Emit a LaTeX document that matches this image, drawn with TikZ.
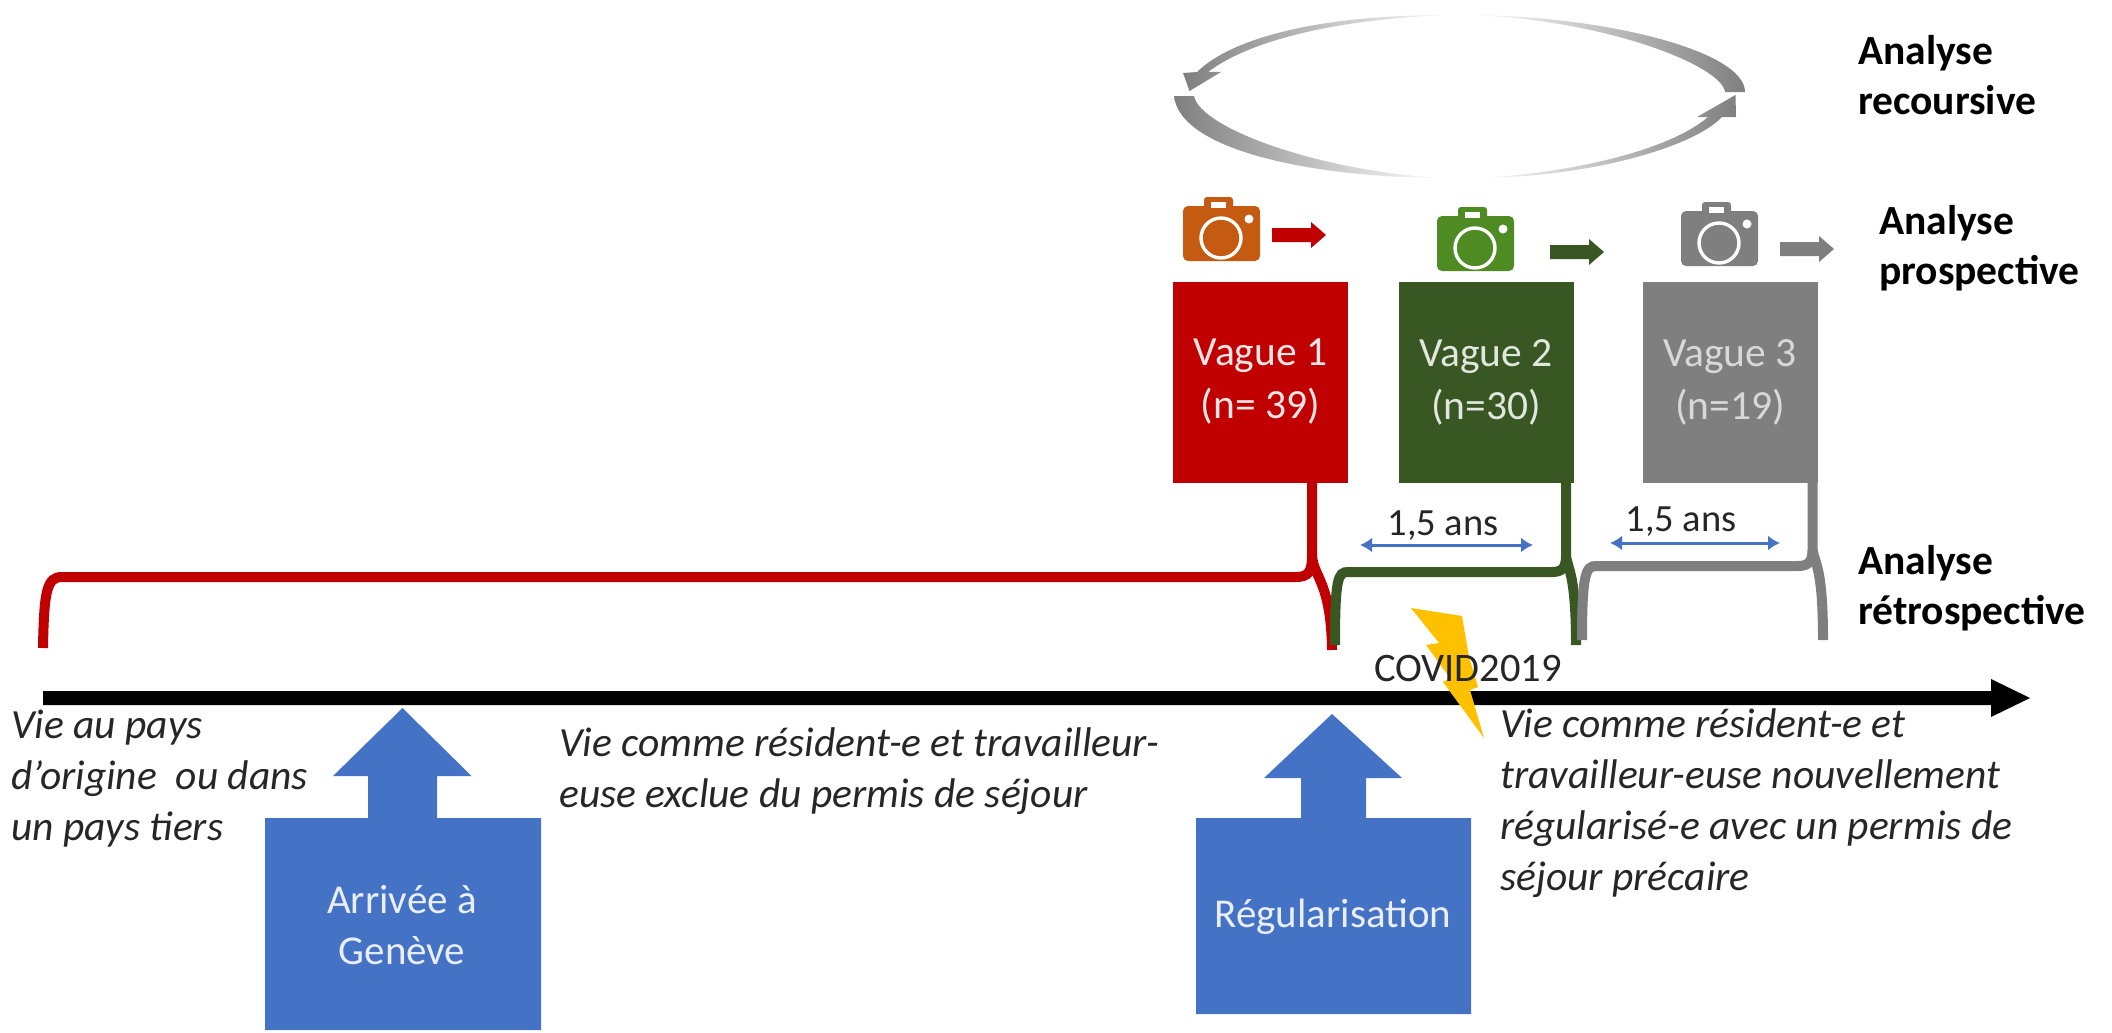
\documentclass[tikz,border=0pt]{standalone}
\usepackage{fontspec}
\setmainfont{Carlito}
\usetikzlibrary{arrows.meta}
\definecolor{cred}{HTML}{C00000}
\definecolor{cgreen}{HTML}{385723}
\definecolor{cgray}{HTML}{7F7F7F}
\definecolor{cblue}{HTML}{4472C4}
\definecolor{cyel}{HTML}{FFC000}
\definecolor{camo}{HTML}{C55A11}
\definecolor{camg}{HTML}{4E8B22}
\tikzset{
  wave/.style={draw=none,minimum width=175pt,minimum height=201pt,inner sep=0pt,outer sep=0pt,text=#1,align=center,font=\fontsize{41.5}{53}\selectfont},
  brace/.style={draw=#1,line width=10pt,line cap=butt},
  span/.style={draw=cblue,line width=3pt,{Latex[length=12pt,width=15pt]}-{Latex[length=12pt,width=15pt]}},
  italic/.style={anchor=north west,inner sep=0pt,align=left,font=\fontsize{41.5}{51}\selectfont\itshape,text=black!85},
  headline/.style={anchor=north west,inner sep=0pt,align=left,font=\fontsize{41.5}{50}\selectfont\bfseries},
  small/.style={inner sep=0pt,font=\fontsize{38.5}{46}\selectfont,text=black!85},
  bluetext/.style={inner sep=0pt,align=center,text=white!88!cblue,font=\fontsize{41}{51}\selectfont},
  minicam/.pic={
    \fill[#1,rounded corners=5pt] (0,9) -- (77,9) -- (77,64) -- (0,64) -- cycle;
    \fill[#1,rounded corners=3pt] (21,0) -- (50,0) -- (50,16) -- (21,16) -- cycle;
    \fill[white] (28,5) rectangle (43,11);
    \draw[white,line width=3.4pt] (38,41) circle[radius=20pt];
    \fill[white] (66,22) circle[radius=4.5pt];
  },
  miniarrow/.pic={
    \fill[#1] (0,-7) -- (39,-7) -- (39,-13) -- (54,0) -- (39,13) -- (39,7) -- (0,7) -- cycle;
  }
}
\begin{document}
\begin{tikzpicture}[x=1pt,y=-1pt]
\useasboundingbox (0,0) rectangle (2112,1033);

% recursive cycle
\path[left color=cgray,middle color=cgray!80,right color=white] (1174,96) -- (1194,96) .. controls (1200,128) and (1320,172) .. (1445,178) .. controls (1320,178) and (1180,152) .. (1174,96) -- cycle;
\path[left color=white,middle color=cgray!80,right color=cgray] (1475,178) .. controls (1580,178) and (1690,150) .. (1722,117) -- (1736,117) -- (1735.5,95) -- (1697,117) -- (1708,117) .. controls (1670,150) and (1570,174) .. (1475,178) -- cycle;
\path[left color=cgray,middle color=cgray!80,right color=white] (1455,15) .. controls (1330,14) and (1235,35) .. (1197,72) -- (1183,73) -- (1189.5,91) -- (1221,72) -- (1208,72) .. controls (1250,40) and (1340,18) .. (1455,15) -- cycle;
\path[left color=white,middle color=cgray!80,right color=cgray] (1465,15) .. controls (1600,15) and (1745,50) .. (1745,92) -- (1725,92) .. controls (1722,65) and (1600,18) .. (1465,15) -- cycle;

% cameras and small arrows
\pic at (1183,197) {minicam=camo};
\pic at (1437,207) {minicam=camg};
\pic at (1681,202) {minicam=cgray};
\pic at (1272,235) {miniarrow=cred};
\pic at (1550,252) {miniarrow=cgreen};
\pic at (1780,249) {miniarrow=cgray};

% waves
\node[wave=white!90!cred,fill=cred] (v1) at (1260.5,382) {Vague 1\\(n= 39)};
\node[wave=white!85!cgreen,fill=cgreen] (v2) at (1486,382) {Vague 2\\(n=30)};
\node[wave=white!70!cgray,fill=cgray] (v3) at (1730,382) {Vague 3\\(n=19)};

% brackets
\coordinate (r0) at (1312,482);
\coordinate (r1) at (43,648);
\coordinate (r2) at (1332,650);
\coordinate (g0) at (1566,482);
\coordinate (g1) at (1335,645);
\coordinate (g2) at (1576,645);
\coordinate (k0) at (1812.5,482);
\coordinate (k1) at (1582,640);
\coordinate (k2) at (1823,640);
\draw[brace=cred] (r0) -- (1312,556) .. controls (1312,572) and (1308,577) .. (1296,577) -- (62,577) .. controls (47,577) and (44,590) .. (r1);
\draw[brace=cred] (1312,556) .. controls (1314,578) and (1331,582) .. (r2);
\draw[brace=cgreen] (g0) -- (1566,556) .. controls (1566,568) and (1562,572) .. (1552,572) -- (1348,572) .. controls (1338,572) and (1335,578) .. (g1);
\draw[brace=cgreen] (1566,556) .. controls (1568,570) and (1576,575) .. (g2);
\draw[brace=cgray] (k0) -- (1812.5,550) .. controls (1812.5,562) and (1808,566) .. (1798,566) -- (1596,566) .. controls (1586,566) and (1582,573) .. (k1);
\draw[brace=cgray] (1812.5,550) .. controls (1815,564) and (1823,568) .. (k2);

% spans
\coordinate (s1a) at (1360,545);
\coordinate (s1b) at (1533,545);
\coordinate (s2a) at (1610,543);
\coordinate (s2b) at (1780,543);
\draw[span] (s1a) -- (s1b);
\draw[span] (s2a) -- (s2b);
\node[small] (t1) at (1443,526) {1,5 ans};
\node[small] (t2) at (1681,522) {1,5 ans};

% timeline
\coordinate (tl0) at (43,698);
\coordinate (tl1) at (2030,698);
\fill[black] (tl0 |- 0,691) -- (1991,691) -- (1991,679) -- (tl1) -- (1991,717) -- (1991,705) -- (tl0 |- 0,705) -- cycle;

% lightning
\fill[cyel] (1411,608) -- (1462,616) -- (1469,657) -- (1478,687) -- (1470,690) -- (1484,738) -- (1443,682) -- (1450,678) -- (1426,645) -- (1439,643) -- cycle;
\node[small,font=\fontsize{40.5}{46}\selectfont] (covid) at (1468,668) {COVID2019};

% blue arrows
\fill[cblue] (402.5,708) -- (471.5,776) -- (437,776) -- (437,818) -- (541,818) -- (541,1030) -- (265,1030) -- (265,818) -- (368,818) -- (368,776) -- (333,776) -- cycle;
\fill[cblue] (1332,714) -- (1402,778) -- (1366,778) -- (1366,818) -- (1471,818) -- (1471,1014) -- (1196,1014) -- (1196,818) -- (1301,818) -- (1301,778) -- (1264,778) -- cycle;
\node[bluetext] (arr) at (402,925) {Arrivée à\\Genève};
\node[bluetext] (reg) at (1333,917) {Régularisation};

% italic texts
\node[italic] (a) at (11,710) {Vie au pays\\d’origine~ ou dans\\un pays tiers};
\node[italic] (b) at (559,727) {Vie comme résident-e et travailleur-\\euse exclue du permis de séjour};
\node[italic] (c) at (1500,708) {Vie comme résident-e et\\travailleur-euse nouvellement\\régularisé-e avec un permis de\\séjour précaire};

% headings
\node[headline] (h1) at (1858,35) {Analyse\\recoursive};
\node[headline] (h2) at (1879,205) {Analyse\\prospective};
\node[headline] (h3) at (1858,545) {Analyse\\rétrospective};
\end{tikzpicture}
\end{document}
